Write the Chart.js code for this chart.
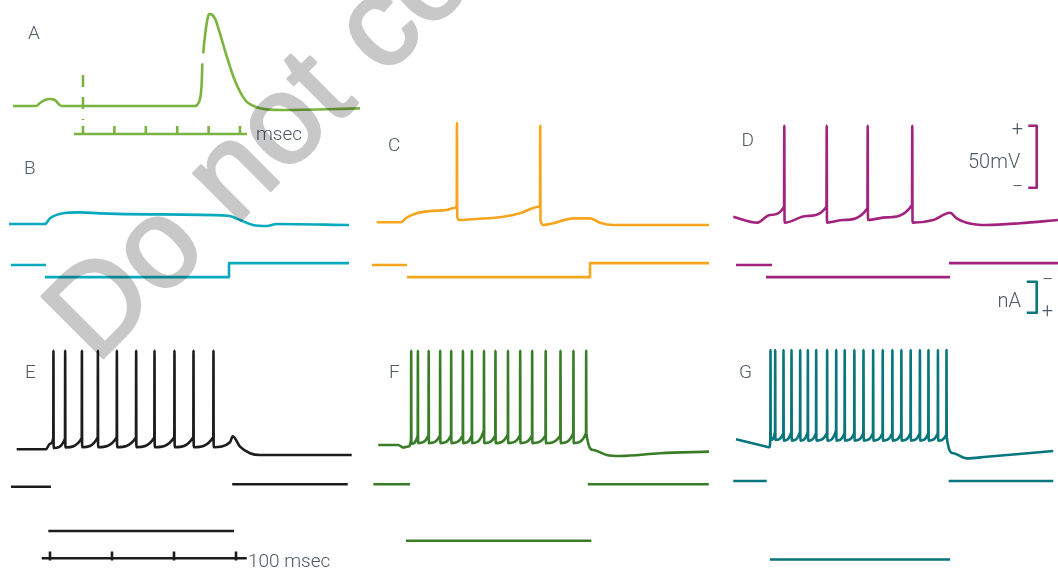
<!DOCTYPE html>
<html lang="en">
<head>
<meta charset="utf-8">
<title>Firing patterns under current injection</title>
<script src="https://cdn.jsdelivr.net/npm/chart.js@4.4.1/dist/chart.umd.min.js"></script>
<style>
  html, body { margin: 0; padding: 0; background: #ffffff; }
  #figure { position: relative; width: 1058px; height: 570px; overflow: hidden; }
  #figure canvas { position: absolute; left: 0; top: 0; }
  #stamp { position: absolute; left: 0; top: 0; mix-blend-mode: multiply; pointer-events: none; }
</style>
</head>
<body>
<div id="figure">
  <canvas id="traces" width="1058" height="570"></canvas>
  <svg id="stamp" width="1058" height="570" viewBox="0 0 1058 570">
    <text transform="translate(96 365) rotate(-45)" font-family="'Liberation Sans', Arial, sans-serif" font-size="126" fill="#c8c8c8" stroke="#c8c8c8" stroke-width="3" stroke-linejoin="round">Do not copy</text>
  </svg>
</div>
<script>
// ---------- recordings: time in ms, membrane potential in mV, injected current in nA ----------

// A: brief stimulus followed by a single action potential (null = pen lift)
const traceA = [
  [-2.23,-65],[-1.50,-65],[-1.37,-62.6],[-1.21,-60.2],[-1.05,-59.4],[-0.89,-60.2],[-0.76,-63.8],[-0.67,-65],
  [3.57,-65],[3.67,-62.8],[3.73,-58.8],[3.78,-46.7],[3.80,-30.6], null,
  [3.83,-22.5],[3.87,-11.7],[3.94,1.7],[3.99,7.9],[4.04,9.2],[4.20,5.7],[4.36,-6.4],[4.58,-25.2],
  [4.79,-41.4],[5.00,-53.5],[5.21,-61.5],[5.53,-66],[5.85,-67.7],[6.38,-68.2],[8.82,-66.9]
];
const stimMarkA = [[0,-40],[0,-76.3]];
const msTicksA = [0, 1, 2, 3, 4, 5];

// B: subthreshold response
const traceB = [[-59.7,-64.6],[-1.6,-64.6],[6.5,-60],[33.4,-55.5],[54.8,-55.2],[87.1,-56],[167.7,-56.8],
  [294,-57.9],[312.9,-61.4],[333.9,-65.4],[356,-66.2],[372.1,-64.6],[488.7,-65.4]];
const stepB = [[-56.5,0],[0,0], null, [-1.6,0.39],[295.2,0.39],[295.2,-0.06],[488.7,-0.06]];

// C: two delayed spikes
const traceC = [[-48.9,-65],[-10.2,-65],[-0.5,-61.3],[15.6,-57.7],[37.1,-55.9],[64,-55.1],[76.3,-53.5],
  [80.2,-51.5],[80.6,14.8],[81.0,-60.5],[83.9,-63.1],[112.4,-62.3],[155.3,-60.5],[182.3,-57.7],[212.9,-52.4],
  [214.5,-51.5],[214.9,12.9],[215.3,-63.1],[219.8,-67.2],[236,-65.8],[268.2,-61.8],[295.2,-61.8],
  [311.3,-65.3],[332.3,-67.2],[487.1,-67.2]];
const stepC = [[-56.5,0],[0,0], null, [0,0.39],[295.2,0.39],[295.2,-0.06],[487.1,-0.06]];

// D: four regular spikes
const traceD = [[-56,-60.5],[-17.3,-65.3],[3.2,-59.1],[25.9,-52.4],[26.3,12.9],[26.7,-65.3],[62.4,-59.9],
  [94.3,-52.4],[94.7,12.9],[95.1,-65.3],[121.5,-63.1],[160.4,-53.7],[160.8,12.9],[161.2,-63.1],[191.5,-61],
  [232.3,-51],[232.7,12.9],[233.1,-65.3],[266.6,-63.1],[293.5,-57.3],[304.4,-61.8],[320.5,-65.3],
  [352.7,-67.2],[406.5,-65.8],[467.7,-63.1]];
const stepD = [[-51.6,0],[6.5,0], null, [-3.2,0.39],[293.5,0.39], null, [291.9,-0.06],[467.7,-0.06]];

// E: repetitive firing, moderate current
const preE = [[-50.5,-65],[-3.2,-65],[3.0,-60.5]];
const spikesE = [8.5, 27.4, 54.4, 80.2, 110.8, 141.9, 171.5, 203.7, 234.4, 266.6];
const spikeBaseE = [-56, -56.5, -56, -55.3, -55.5, -55.5, -55.5, -55.3, -55.3, -55.3];
const spikeTroughE = [-64, -63.5, -63.3, -63.3, -63.3, -63.3, -63.3, -63.3, -63.3, -63.3];
const peakE = 14.5;
const postE = [[293.5,-59.3],[297.9,-54.5],[309.7,-62.9],[325.8,-68.2],[341.9,-69.6],[489.8,-69.6]];
const stepE = [[-59.7,0],[4.8,0], null, [0.5,1.43],[300,1.43], null, [297.1,-0.08],[483.4,-0.08]];

// F: repetitive firing, larger current
const preF = [[-44.7,-61.5],[-12.4,-61.5],[-4.4,-63.5],[3.7,-62.7]];
const spikesF = [8.1, 18.9, 36.3, 54.8, 72.6, 91.5, 106, 125.5, 144, 164.2, 183.9, 203.2, 225, 248.9, 269.8, 290.3];
const spikeBaseF = [-57, -54, -54, -54, -54, -54, -54, -50, -54, -53, -54, -54, -54, -54, -52, -52];
const spikeTroughF = [-60.5, -60, -60, -60, -60, -60, -60, -60, -60, -60, -60, -60, -60, -60, -60, -52];
const peakF = 14.5;
const postF = [[302.1,-65.6],[323.7,-69.6],[345.2,-70.4],[409.7,-68.2],[488.7,-66.9]];
const stepF = [[-52.7,0],[6.5,0], null, [0,1.82],[299,1.82], null, [293.2,0],[488.4,0]];

// G: repetitive firing, strongest current
const preG = [[-54.8,-56.9],[-5.3,-62.9],[-1.1,-63.4]];
const spikesG = [0.5, 8.1, 21.5, 34.4, 48.4, 60.8, 74.2, 91.9, 106.5, 120.2, 135.8, 150.5, 166.1, 181.5,
  197.1, 211.6, 226.6, 241.5, 255.3, 270.6, 284.4];
const spikeBaseG = [-57, -51, -52, -51, -51, -51, -52, -52, -50, -52, -52, -52, -52, -52, -52, -52, -52,
  -52, -52, -52, -53];
const spikeTroughG = [-57.5, -57.5, -58, -58, -58, -58, -58, -58, -58, -58, -58, -58, -58, -58, -58, -58,
  -58, -58, -58, -58, -55];
const peakG = 15.1;
const postG = [[295.6,-68.2],[317.3,-72.3],[349.5,-71],[456.9,-66.4]];
const stepG = [[-59.2,0],[-5.3,0], null, [0,2.53],[290.3,2.53], null, [288.2,0],[456.9,0]];

// calibration bars
const barMv = 50;
const barNa = 1;
const barMsTicks = [0, 100, 200, 300];

// ---------- layout ----------
const W = 1058, H = 570;
const MS_PX = 0.62, MV_PX = 1.24, NA_PX = 31, REST_MV = -65;
// x0: pixel of t = 0; rest: pixel of the resting level; i0: pixel of 0 nA
const panels = {
  A: { x0: 83,  msPx: 31.4, rest: 106 },
  B: { x0: 46,  rest: 224.5, i0: 265 },
  C: { x0: 407, rest: 222.3, i0: 265 },
  D: { x0: 768, rest: 222.3, i0: 265 },
  E: { x0: 48,  rest: 449.3, i0: 486.7 },
  F: { x0: 406, rest: 449.3, i0: 484.3 },
  G: { x0: 770, rest: 449.3, i0: 481 }
};
const colors = { A: '#7ab43e', B: '#0aa9be', C: '#f6a51f', D: '#a2237e', E: '#1c1c1c', F: '#3a7d29', G: '#08767c' };
const TEXT_COLOR = '#4d5964';
const FONT_FAMILY = 'Roboto, "Liberation Sans", sans-serif';

const scales = {};
for (const [k, p] of Object.entries(panels)) {
  const msPx = p.msPx || MS_PX;
  scales['x' + k] = { type: 'linear', display: false, min: -p.x0 / msPx, max: (W - p.x0) / msPx };
  const zero = p.rest + REST_MV * MV_PX;
  scales['v' + k] = { type: 'linear', display: false, min: (zero - H) / MV_PX, max: zero / MV_PX };
  if (p.i0 !== undefined) {
    scales['i' + k] = { type: 'linear', display: false, reverse: true, min: -p.i0 / NA_PX, max: (H - p.i0) / NA_PX };
  }
}
// separate time axis for the 100 ms calibration bar
scales.xBar = { type: 'linear', display: false, min: -50 / MS_PX, max: (W - 50) / MS_PX };

// ---------- helpers ----------
function toPoints(arr) {
  const out = [];
  let lastX = 0;
  for (const p of arr) {
    if (p) { out.push({ x: p[0], y: p[1] }); lastX = p[0]; }
    else out.push({ x: lastX, y: null });
  }
  return out;
}
function spikeTrain(pre, times, bases, troughs, peak, post) {
  const out = pre.slice();
  times.forEach((t, k) => { out.push([t, bases[k]], [t + 0.3, peak], [t + 0.6, troughs[k]]); });
  return out.concat(post);
}
function trace(arr, k, axis, color, extra) {
  return Object.assign({
    data: toPoints(arr), xAxisID: 'x' + k, yAxisID: axis + k,
    borderColor: color, borderWidth: 2.6, pointRadius: 0, fill: false,
    spanGaps: false, tension: 0, borderJoinStyle: 'round'
  }, extra || {});
}
function tickBar(ticks, from, to, level, tickTop, tickBottom) {
  const out = [[from, level], [to, level]];
  ticks.forEach(t => out.push(null, [t, tickBottom], [t, tickTop]));
  return out;
}
const smooth = { cubicInterpolationMode: 'monotone' };

// ---------- datasets ----------
const datasets = [
  trace(traceA, 'A', 'v', colors.A, smooth),
  trace(stimMarkA, 'A', 'v', colors.A, { borderDash: [12, 10] }),
  trace(tickBar(msTicksA, -0.29, 5.22, -87.6, -81.1, -87.6), 'A', 'v', colors.A),

  trace(traceB, 'B', 'v', colors.B, smooth),
  trace(stepB, 'B', 'i', colors.B),
  trace(traceC, 'C', 'v', colors.C, smooth),
  trace(stepC, 'C', 'i', colors.C),
  trace(traceD, 'D', 'v', colors.D, smooth),
  trace(stepD, 'D', 'i', colors.D),

  trace(spikeTrain(preE, spikesE, spikeBaseE, spikeTroughE, peakE, postE), 'E', 'v', colors.E, smooth),
  trace(stepE, 'E', 'i', colors.E),
  trace(spikeTrain(preF, spikesF, spikeBaseF, spikeTroughF, peakF, postF), 'F', 'v', colors.F, smooth),
  trace(stepF, 'F', 'i', colors.F),
  trace(spikeTrain(preG, spikesG, spikeBaseG, spikeTroughG, peakG, postG), 'G', 'v', colors.G, smooth),
  trace(stepG, 'G', 'i', colors.G),

  // 50 mV and 1 nA calibration brackets beside panel D
  trace([[419.8, 12.9], [433.4, 12.9], [433.4, 12.9 - barMv], [419.8, 12.9 - barMv]], 'D', 'v', colors.D),
  trace([[417.3, 0.54], [433.4, 0.54], [433.4, 0.54 + barNa], [417.3, 0.54 + barNa]], 'D', 'i', colors.G),
];
// 100 ms time bar under panel E (drawn on E's current axis for vertical placement)
datasets.push(Object.assign(trace(tickBar(barMsTicks, -13.4, 317.3, 2.31, 2.09, 2.38), 'E', 'i', colors.E), { xAxisID: 'xBar' }));

// ---------- text ----------
const labels = [
  { text: 'A', x: 28, y: 39 }, { text: 'B', x: 24, y: 174 }, { text: 'C', x: 388, y: 150.5 },
  { text: 'D', x: 741.5, y: 146 }, { text: 'E', x: 25, y: 378 }, { text: 'F', x: 389, y: 377.5 },
  { text: 'G', x: 739, y: 378 },
  { text: 'msec', x: 256, y: 140 }, { text: '100 msec', x: 248, y: 567 },
  { text: '50mV', x: 968, y: 168, size: 20 }, { text: 'nA', x: 997.5, y: 306.7, size: 20 }
];
const signs = [
  { text: '+', x: 1017.5, y: 129.5 }, { text: '\u2212', x: 1017.5, y: 187.5 },
  { text: '\u2212', x: 1047.5, y: 281 }, { text: '+', x: 1047.5, y: 311.5 }
];
const textLayer = {
  id: 'textLayer',
  afterDatasetsDraw(chart) {
    const ctx = chart.ctx;
    ctx.save();
    ctx.fillStyle = TEXT_COLOR;
    ctx.textAlign = 'left';
    ctx.textBaseline = 'alphabetic';
    for (const l of labels) {
      ctx.font = `300 ${l.size || 19}px ${FONT_FAMILY}`;
      ctx.fillText(l.text, l.x, l.y);
    }
    ctx.textAlign = 'center';
    ctx.textBaseline = 'middle';
    ctx.font = `300 20px ${FONT_FAMILY}`;
    for (const s of signs) ctx.fillText(s.text, s.x, s.y);
    ctx.restore();
  }
};

new Chart(document.getElementById('traces'), {
  type: 'line',
  data: { datasets },
  options: {
    responsive: false,
    animation: false,
    devicePixelRatio: 1,
    layout: { padding: 0 },
    events: [],
    plugins: { legend: { display: false }, tooltip: { enabled: false }, title: { display: false } },
    scales
  },
  plugins: [textLayer]
});
</script>
</body>
</html>
